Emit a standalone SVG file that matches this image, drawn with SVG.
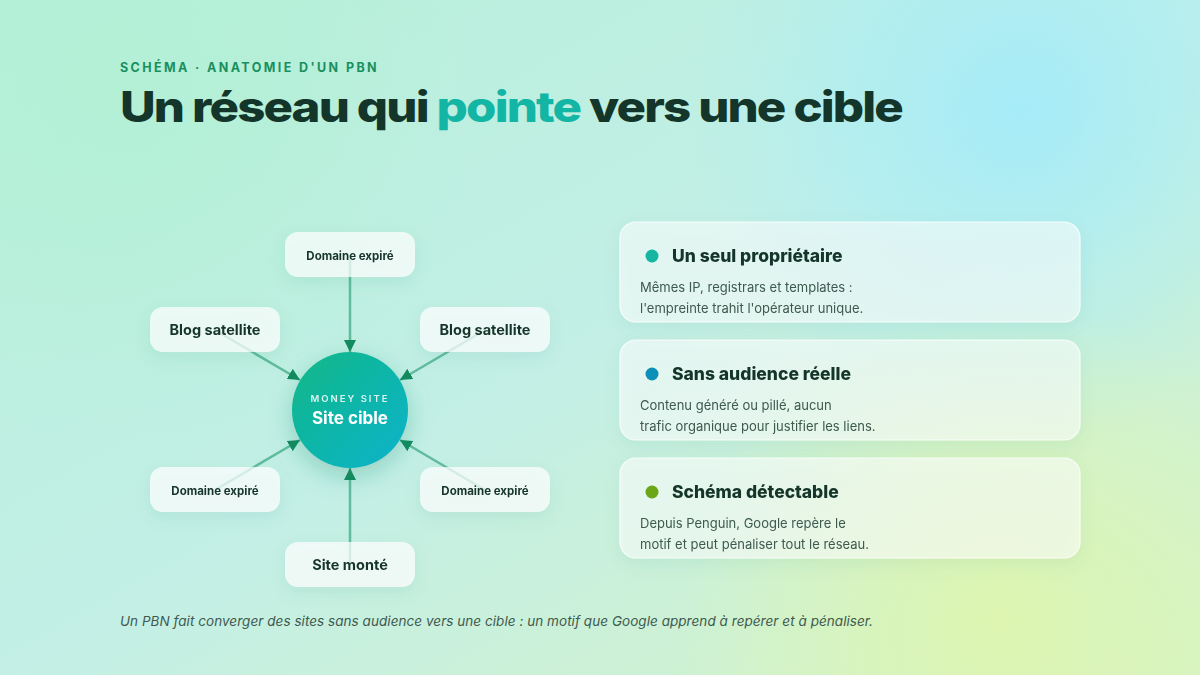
<svg xmlns="http://www.w3.org/2000/svg" width="1200" height="675" viewBox="0 0 1200 675">
<defs>
<linearGradient id="bg" x1="0" y1="0" x2="1" y2="1">
<stop offset="0" stop-color="#b6efd9"/>
<stop offset="0.5" stop-color="#c3efe6"/>
<stop offset="1" stop-color="#d6f3c6"/>
</linearGradient>
<radialGradient id="cyanGlow" cx="1020" cy="110" r="330" gradientUnits="userSpaceOnUse">
<stop offset="0" stop-color="#a6ecf8" stop-opacity="1"/>
<stop offset="1" stop-color="#a6ecf8" stop-opacity="0"/>
</radialGradient>
<radialGradient id="limeGlow" cx="1000" cy="620" r="320" gradientUnits="userSpaceOnUse">
<stop offset="0" stop-color="#ddf5b0" stop-opacity="1"/>
<stop offset="1" stop-color="#ddf5b0" stop-opacity="0"/>
</radialGradient>
<radialGradient id="mintGlow" cx="120" cy="80" r="360" gradientUnits="userSpaceOnUse">
<stop offset="0" stop-color="#b3f0d6" stop-opacity="1"/>
<stop offset="1" stop-color="#b3f0d6" stop-opacity="0"/>
</radialGradient>
<linearGradient id="hub" x1="0" y1="0" x2="1" y2="1">
<stop offset="0" stop-color="#12b886"/>
<stop offset="1" stop-color="#0fb3cc"/>
</linearGradient>
<filter id="shadow" x="-30%" y="-40%" width="160%" height="200%">
<feDropShadow dx="0" dy="6" stdDeviation="8" flood-color="#2a7a60" flood-opacity="0.12"/>
</filter>
<filter id="hubShadow" x="-50%" y="-50%" width="200%" height="200%">
<feDropShadow dx="0" dy="8" stdDeviation="12" flood-color="#128a6a" flood-opacity="0.3"/>
</filter>
<marker id="arrow" viewBox="0 0 12 12" refX="12" refY="6" markerWidth="12" markerHeight="12" markerUnits="userSpaceOnUse" orient="auto">
<path d="M0,0 L12,6 L0,12 z" fill="#138a5e"/>
</marker>
<style>
.node rect{fill:#ffffff;fill-opacity:0.72;}
.nlabel{font-family:Inter,"Liberation Sans",sans-serif;font-weight:700;fill:#17352b;text-anchor:middle;}
.edge{stroke:#1f9a6e;stroke-opacity:0.6;stroke-width:2.5;fill:none;}
.card rect{fill:#ffffff;fill-opacity:0.55;stroke:#ffffff;stroke-opacity:0.8;stroke-width:1.2;}
.ctitle{font-family:Inter,"Liberation Sans",sans-serif;font-weight:800;font-size:17.5px;fill:#14352a;}
.cbody{font-family:Inter,"Liberation Sans",sans-serif;font-size:13px;fill:#3e5a50;}
</style>
</defs>

<rect width="1200" height="675" fill="url(#bg)"/>
<rect width="1200" height="675" fill="url(#mintGlow)"/>
<rect width="1200" height="675" fill="url(#cyanGlow)"/>
<rect width="1200" height="675" fill="url(#limeGlow)"/>

<g id="header">
<text x="120" y="72" font-family="Inter,'Liberation Sans',sans-serif" font-weight="700" font-size="12.5" letter-spacing="2.4" fill="#1a8f5e">SCHÉMA · ANATOMIE D'UN PBN</text>
<text x="120" y="122" font-family="Inter,'Liberation Sans',sans-serif" font-weight="800" font-size="42" letter-spacing="-1.6" fill="#14352a" textLength="782" lengthAdjust="spacingAndGlyphs">Un réseau qui <tspan fill="#13b5a5">pointe</tspan> vers une cible</text>
</g>

<g id="connectors">
<line class="edge" x1="350" y1="255" x2="350" y2="352" marker-end="url(#arrow)"/>
<line class="edge" x1="215" y1="330" x2="300" y2="380" marker-end="url(#arrow)"/>
<line class="edge" x1="485" y1="330" x2="400" y2="380" marker-end="url(#arrow)"/>
<line class="edge" x1="215" y1="490" x2="300" y2="440" marker-end="url(#arrow)"/>
<line class="edge" x1="485" y1="490" x2="400" y2="440" marker-end="url(#arrow)"/>
<line class="edge" x1="350" y1="565" x2="350" y2="468" marker-end="url(#arrow)"/>
</g>

<g id="node-top" class="node" filter="url(#shadow)">
<rect x="285" y="232" width="130" height="45" rx="13"/>
<text class="nlabel" x="350" y="259.5" font-size="11.5">Domaine expiré</text>
</g>
<g id="node-blog-left" class="node" filter="url(#shadow)">
<rect x="150" y="307" width="130" height="45" rx="13"/>
<text class="nlabel" x="215" y="335" font-size="14.5">Blog satellite</text>
</g>
<g id="node-blog-right" class="node" filter="url(#shadow)">
<rect x="420" y="307" width="130" height="45" rx="13"/>
<text class="nlabel" x="485" y="335" font-size="14.5">Blog satellite</text>
</g>
<g id="node-exp-left" class="node" filter="url(#shadow)">
<rect x="150" y="467" width="130" height="45" rx="13"/>
<text class="nlabel" x="215" y="494.5" font-size="11.5">Domaine expiré</text>
</g>
<g id="node-exp-right" class="node" filter="url(#shadow)">
<rect x="420" y="467" width="130" height="45" rx="13"/>
<text class="nlabel" x="485" y="494.5" font-size="11.5">Domaine expiré</text>
</g>
<g id="node-bottom" class="node" filter="url(#shadow)">
<rect x="285" y="542" width="130" height="45" rx="13"/>
<text class="nlabel" x="350" y="570" font-size="14.5">Site monté</text>
</g>

<g id="hub" filter="url(#hubShadow)">
<circle cx="350" cy="410" r="58" fill="url(#hub)"/>
<text x="350" y="402" text-anchor="middle" font-family="Inter,'Liberation Sans',sans-serif" font-weight="600" font-size="9.5" letter-spacing="2" fill="#ffffff" fill-opacity="0.85">MONEY SITE</text>
<text x="350" y="424" text-anchor="middle" font-family="Inter,'Liberation Sans',sans-serif" font-weight="700" font-size="17" fill="#ffffff">Site cible</text>
</g>

<g id="card-1" class="card" filter="url(#shadow)">
<rect x="620" y="222" width="460" height="100" rx="16"/>
<circle cx="652" cy="256" r="6.5" fill="#12b5a2"/>
<text class="ctitle" x="672" y="262">Un seul propriétaire</text>
<text class="cbody" x="640" y="292">Mêmes IP, registrars et templates :</text>
<text class="cbody" x="640" y="313">l'empreinte trahit l'opérateur unique.</text>
</g>
<g id="card-2" class="card" filter="url(#shadow)">
<rect x="620" y="340" width="460" height="100" rx="16"/>
<circle cx="652" cy="374" r="6.5" fill="#1190b8"/>
<text class="ctitle" x="672" y="380">Sans audience réelle</text>
<text class="cbody" x="640" y="410">Contenu généré ou pillé, aucun</text>
<text class="cbody" x="640" y="431">trafic organique pour justifier les liens.</text>
</g>
<g id="card-3" class="card" filter="url(#shadow)">
<rect x="620" y="458" width="460" height="100" rx="16"/>
<circle cx="652" cy="492" r="6.5" fill="#6aa612"/>
<text class="ctitle" x="672" y="498">Schéma détectable</text>
<text class="cbody" x="640" y="528">Depuis Penguin, Google repère le</text>
<text class="cbody" x="640" y="549">motif et peut pénaliser tout le réseau.</text>
</g>

<text id="caption" x="120" y="626" font-family="Inter,'Liberation Sans',sans-serif" font-style="italic" font-size="13.5" fill="#3e5a50" textLength="753" lengthAdjust="spacing">Un PBN fait converger des sites sans audience vers une cible : un motif que Google apprend à repérer et à pénaliser.</text>
</svg>
